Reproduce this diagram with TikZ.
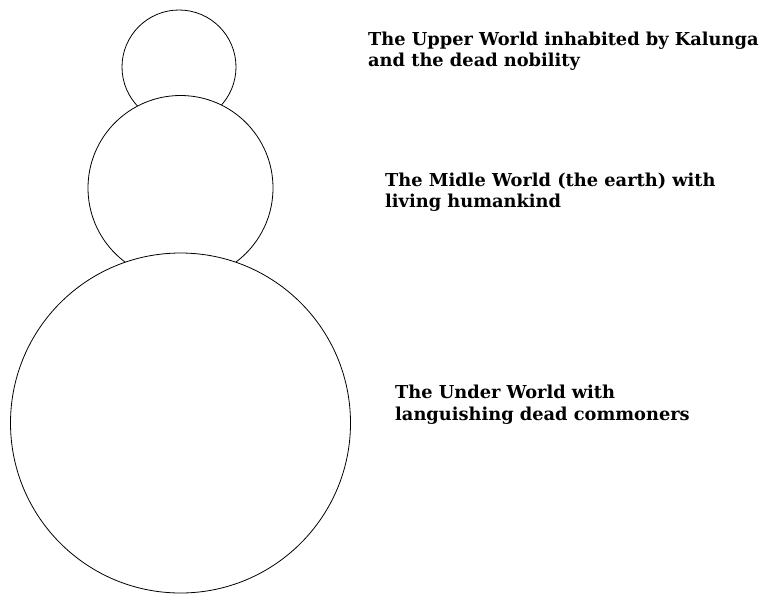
\documentclass[tikz,border=0pt]{standalone}
\usepackage{fontspec}
\newfontfamily\labelfont{DejaVu Serif}
\begin{document}
\begin{tikzpicture}[x=1pt,y=-1pt,
  world/.style={circle, draw=black, line width=0.8pt, fill=white, inner sep=0pt},
  caption/.style={anchor=base west, align=left, inner sep=0pt,
    font=\labelfont\bfseries\fontsize{17.8pt}{21.5pt}\selectfont}]
\useasboundingbox (0,0) rectangle (760,595);
\node[world, minimum size=114pt] (upper) at (179,67) {};
\node[world, minimum size=185pt] (middle) at (180.5,188) {};
\node[world, minimum size=340pt] (under) at (180.5,423) {};
\node[caption] (tupper) at (368,66.5) {The Upper World inhabited by Kalunga\\and the dead nobility};
\node[caption] (tmiddle) at (385,207.5) {The Midle World (the earth) with\\living humankind};
\node[caption] (tunder) at (395,420) {The Under World with\\languishing dead commoners};
\end{tikzpicture}
\end{document}
